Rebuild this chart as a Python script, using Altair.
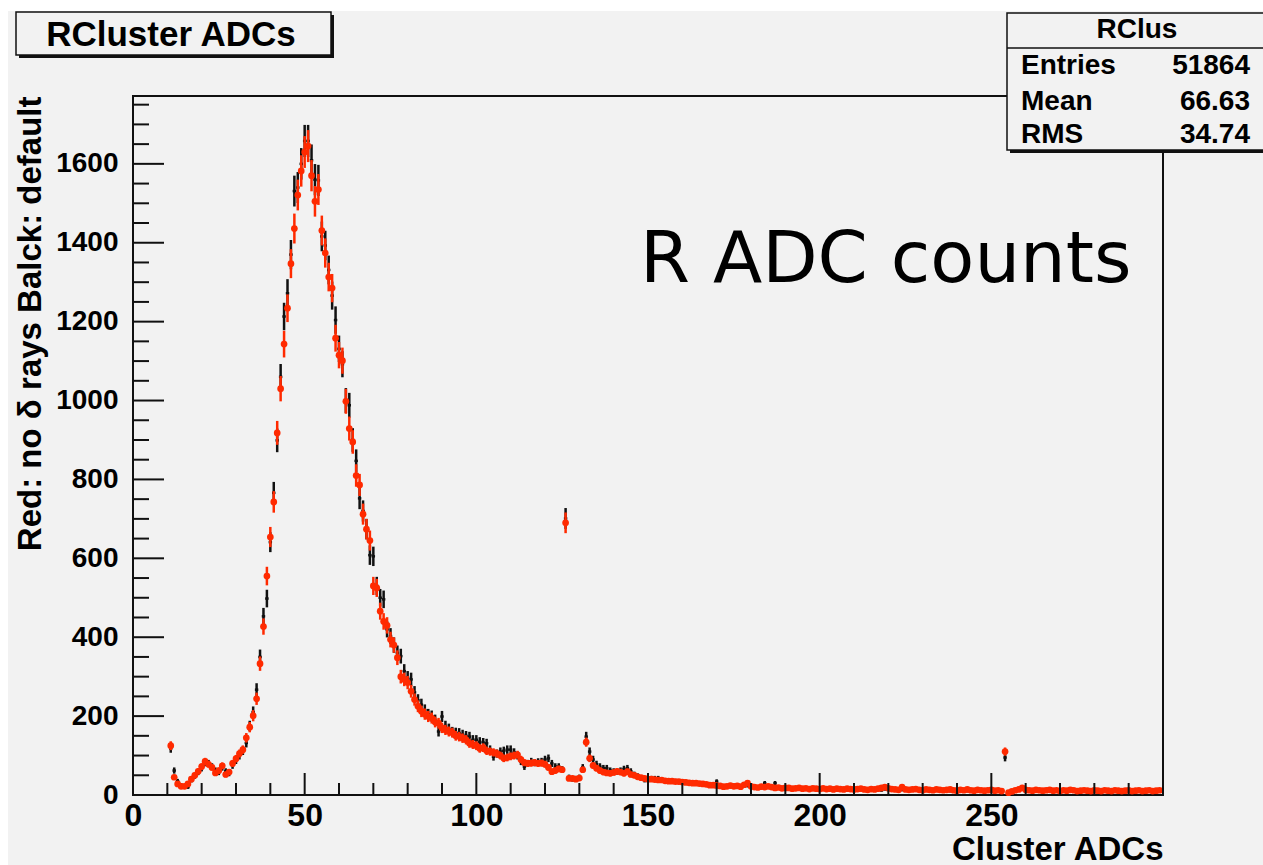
import altair as alt
import pandas as pd
import numpy as np

# ---------------- data ----------------
bins = list(range(11, 300))  # bin centres, ADC

red_counts = [
    125, 45, 28, 22, 22, 28, 40, 50, 60, 72,
    85, 78, 70, 56, 62, 74, 52, 58, 80, 92,
    105, 115, 145, 172, 201, 244, 333, 427, 555, 654,
    743, 918, 1030, 1143, 1234, 1347, 1436, 1521, 1582, 1630,
    1645, 1570, 1505, 1535, 1431, 1374, 1313, 1285, 1158, 1115,
    1101, 998, 929, 895, 810, 786, 712, 674, 645, 530,
    525, 466, 440, 430, 394, 380, 348, 300, 293, 285,
    263, 242, 225, 212, 205, 199, 195, 185, 182, 170,
    165, 161, 158, 150, 148, 144, 140, 131, 128, 125,
    118, 120, 112, 110, 108, 105, 100, 93, 95, 98,
    100, 102, 90, 82, 80, 81, 82, 80, 81, 78,
    70, 59, 62, 66, 64, 690, 42, 42, 40, 43,
    64, 134, 93, 75, 68, 62, 58, 56, 55, 57,
    60, 58, 55, 59, 52, 50, 46, 44, 42, 40,
    40, 39, 38, 38, 36, 35, 35, 34, 34, 33,
    32, 31, 30, 30, 29, 28, 27, 25, 25, 24,
    23, 21, 22, 24, 22, 23, 21, 26, 30, 22,
    20, 19, 21, 20, 22, 20, 18, 19, 17, 18,
    18, 16, 17, 18, 16, 17, 15, 17, 16, 15,
    17, 15, 16, 14, 16, 15, 14, 16, 15, 14,
    15, 16, 14, 13, 15, 14, 16, 18, 20, 17,
    15, 14, 13, 20, 14, 13, 14, 15, 13, 12,
    14, 13, 12, 14, 13, 12, 13, 14, 12, 11,
    13, 12, 14, 12, 11, 13, 12, 11, 12, 13,
    11, 12, 10, 110, 6, 9, 12, 14, 18, 13,
    12, 11, 13, 12, 11, 12, 13, 11, 12, 10,
    12, 11, 13, 12, 10, 11, 12, 11, 10, 12,
    11, 10, 12, 11, 10, 12, 11, 10, 11, 12,
    10, 11, 12, 10, 11, 12, 10, 11, 12,
]

black_counts = [
    118, 62, 35, 25, 22, 20, 38, 48, 58, 68,
    82, 80, 72, 62, 58, 70, 60, 55, 75, 88,
    100, 112, 132, 175, 210, 267, 350, 453, 498, 641,
    766, 899, 1060, 1213, 1272, 1370, 1531, 1540, 1600, 1658,
    1658, 1609, 1560, 1558, 1416, 1393, 1331, 1266, 1204, 1131,
    1092, 1000, 988, 900, 847, 752, 720, 674, 608, 605,
    530, 500, 496, 420, 403, 380, 360, 352, 314, 297,
    293, 260, 240, 229, 215, 204, 200, 190, 161, 199,
    175, 168, 160, 158, 157, 153, 150, 148, 140, 140,
    135, 133, 131, 115, 97, 105, 110, 112, 115, 115,
    108, 100, 85, 72, 80, 85, 82, 84, 85, 90,
    93, 80, 72, 72, 65, 701, 45, 40, 42, 45,
    70, 148, 110, 90, 78, 72, 68, 68, 62, 60,
    59, 62, 66, 68, 60, 52, 48, 42, 38, 40,
    42, 42, 42, 38, 37, 36, 34, 35, 33, 32,
    33, 30, 31, 29, 28, 30, 26, 27, 24, 34,
    22, 23, 20, 22, 24, 21, 20, 23, 24, 21,
    22, 20, 19, 30, 21, 19, 30, 18, 17, 19,
    17, 18, 16, 17, 18, 15, 16, 17, 15, 16,
    15, 16, 14, 15, 13, 16, 15, 13, 14, 15,
    14, 13, 15, 14, 12, 13, 14, 12, 15, 14,
    13, 12, 14, 13, 12, 13, 11, 13, 12, 11,
    12, 13, 11, 12, 13, 11, 12, 10, 11, 12,
    11, 12, 10, 11, 12, 10, 11, 12, 10, 11,
    10, 11, 9, 95, 6, 8, 10, 12, 14, 11,
    10, 11, 12, 10, 9, 11, 10, 12, 9, 10,
    11, 9, 10, 11, 10, 9, 11, 10, 9, 10,
    9, 10, 11, 9, 10, 8, 10, 9, 11, 10,
    9, 10, 8, 10, 9, 10, 11, 9, 10,
]

x_label_values = [0, 50, 100, 150, 200, 250]
y_label_values = [0, 200, 400, 600, 800, 1000, 1200, 1400, 1600]
x_major_ticks = [0, 50, 100, 150, 200, 250, 300]
x_minor_ticks = [v for v in range(10, 300, 10) if v % 50 != 0]
y_major_ticks = [0, 200, 400, 600, 800, 1000, 1200, 1400, 1600]
y_minor_ticks = [v for v in range(50, 1772, 50) if v % 200 != 0]

hist_title = "RCluster ADCs"
stats_name = "RClus"
stat_labels = ["Entries", "Mean", "RMS"]
stat_values = ["51864", "66.63", "34.74"]
annotation = "R ADC counts"
x_title = "Cluster ADCs"
y_title = "Red: no δ rays Balck: default"

# ---------------- build ----------------
W, H = 1030, 699
FONT = "Liberation Sans"
RED = "#ff2a00"
BLACK = "#111111"
BG = "#f2f2f2"


def make_df(vals):
    df = pd.DataFrame({"adc": bins, "count": vals})
    err = np.sqrt(df["count"].astype(float))
    df["lo"] = df["count"] - err
    df["hi"] = df["count"] + err
    df["x0"] = df["adc"] - 0.5
    df["x1"] = df["adc"] + 0.5
    return df


red_df = make_df(red_counts)
black_df = make_df(black_counts)

xs = alt.Scale(domain=[0, 300], nice=False, zero=False)
ys = alt.Scale(domain=[0, 1772], nice=False, zero=False)

xaxis = alt.Axis(
    values=x_label_values, tickSize=0, domain=False, grid=False, format="d",
    labelFont=FONT, labelFontSize=32, labelFontWeight="bold", labelColor="black",
    labelPadding=5, labelFlush=False, labelOverlap=False,
    title=x_title, titleFont=FONT, titleFontSize=33, titleFontWeight="bold",
    titleColor="black", titleAnchor="end", titleY=64, titleBaseline="alphabetic",
)
yaxis = alt.Axis(
    values=y_label_values, tickSize=0, domain=False, grid=False, format="d",
    labelFont=FONT, labelFontSize=28, labelFontWeight="bold", labelColor="black",
    labelPadding=15, labelFlush=False, labelOverlap=False,
    title=y_title, titleFont=FONT, titleFontSize=33, titleFontWeight="bold",
    titleColor="black", titleAnchor="end", titleX=-93, titleBaseline="alphabetic",
)


def X(field):
    return alt.X(f"{field}:Q", scale=xs, axis=xaxis)


def Y(field):
    return alt.Y(f"{field}:Q", scale=ys, axis=yaxis)


layers = []

# histogram error bars (black first, red on top)
for df, col in [(black_df, BLACK), (red_df, RED)]:
    base = alt.Chart(df)
    layers.append(base.mark_rule(color=col, strokeWidth=2.5).encode(
        x=X("adc"), y=Y("lo"), y2="hi"))
    layers.append(base.mark_rule(color=col, strokeWidth=2.5).encode(
        x=X("x0"), x2="x1", y=Y("count")))

layers.append(alt.Chart(red_df).mark_circle(size=45, color=RED, opacity=1).encode(
    x=X("adc"), y=Y("count")))

# inward ticks
tick_x_major = pd.DataFrame({"v": x_major_ticks})
tick_x_minor = pd.DataFrame({"v": x_minor_ticks})
tick_y_major = pd.DataFrame({"v": y_major_ticks})
tick_y_minor = pd.DataFrame({"v": y_minor_ticks})
layers.append(alt.Chart(tick_x_major).mark_rule(color=BLACK, strokeWidth=2).encode(
    x=X("v"), y=alt.value(H), y2=alt.value(H - 22)))
layers.append(alt.Chart(tick_x_minor).mark_rule(color=BLACK, strokeWidth=2).encode(
    x=X("v"), y=alt.value(H), y2=alt.value(H - 12)))
layers.append(alt.Chart(tick_y_major).mark_rule(color=BLACK, strokeWidth=2).encode(
    y=Y("v"), x=alt.value(0), x2=alt.value(31)))
layers.append(alt.Chart(tick_y_minor).mark_rule(color=BLACK, strokeWidth=2).encode(
    y=Y("v"), x=alt.value(0), x2=alt.value(16)))

one = pd.DataFrame({"k": [0]})

# white page strips (top and left)
layers.append(alt.Chart(one).mark_rect(color="white").encode(
    x=alt.value(-133), x2=alt.value(1140), y=alt.value(-96), y2=alt.value(-85)))
layers.append(alt.Chart(one).mark_rect(color="white").encode(
    x=alt.value(-133), x2=alt.value(-125), y=alt.value(-96), y2=alt.value(780)))

# histogram title box
layers.append(alt.Chart(one).mark_rect(color=BLACK).encode(
    x=alt.value(-114), x2=alt.value(201), y=alt.value(-81), y2=alt.value(-38)))
layers.append(alt.Chart(one).mark_rect(fill=BG, stroke=BLACK, strokeWidth=1.5).encode(
    x=alt.value(-117), x2=alt.value(198), y=alt.value(-84), y2=alt.value(-41)))
layers.append(alt.Chart(pd.DataFrame({"t": [hist_title]})).mark_text(
    font=FONT, fontSize=35, fontWeight="bold", color="black", align="center",
    baseline="alphabetic").encode(x=alt.value(38), y=alt.value(-50), text="t:N"))

# stats box
layers.append(alt.Chart(one).mark_rect(color=BLACK).encode(
    x=alt.value(877), x2=alt.value(1145), y=alt.value(-80), y2=alt.value(57)))
layers.append(alt.Chart(one).mark_rect(fill=BG, stroke=BLACK, strokeWidth=1.5).encode(
    x=alt.value(874), x2=alt.value(1142), y=alt.value(-83), y2=alt.value(54)))
layers.append(alt.Chart(one).mark_rule(color=BLACK, strokeWidth=1.5).encode(
    x=alt.value(874), x2=alt.value(1142), y=alt.value(-48)))
layers.append(alt.Chart(pd.DataFrame({"t": [stats_name]})).mark_text(
    font=FONT, fontSize=28, fontWeight="bold", color="black", align="center",
    baseline="alphabetic").encode(x=alt.value(1004), y=alt.value(-58), text="t:N"))
for i, yy in enumerate([-22, 14, 47]):
    layers.append(alt.Chart(pd.DataFrame({"t": [stat_labels[i]]})).mark_text(
        font=FONT, fontSize=28, fontWeight="bold", color="black", align="left",
        baseline="alphabetic").encode(x=alt.value(888), y=alt.value(yy), text="t:N"))
    layers.append(alt.Chart(pd.DataFrame({"t": [stat_values[i]]})).mark_text(
        font=FONT, fontSize=28, fontWeight="bold", color="black", align="right",
        baseline="alphabetic").encode(x=alt.value(1117), y=alt.value(yy), text="t:N"))

# big annotation
layers.append(alt.Chart(pd.DataFrame({"t": [annotation]})).mark_text(
    font="DejaVu Sans", fontSize=72, color="black", align="left",
    baseline="alphabetic").encode(x=alt.value(507), y=alt.value(186), text="t:N"))

chart = alt.layer(*layers).properties(
    width=W, height=H,
    autosize=alt.AutoSizeParams(type="none"),
    padding={"left": 133, "top": 96, "right": 100, "bottom": 70},
    background=BG,
).configure_view(stroke=BLACK, strokeWidth=2, fill=BG)

chart.save("out.html", embed_options={"renderer": "svg", "actions": False})
